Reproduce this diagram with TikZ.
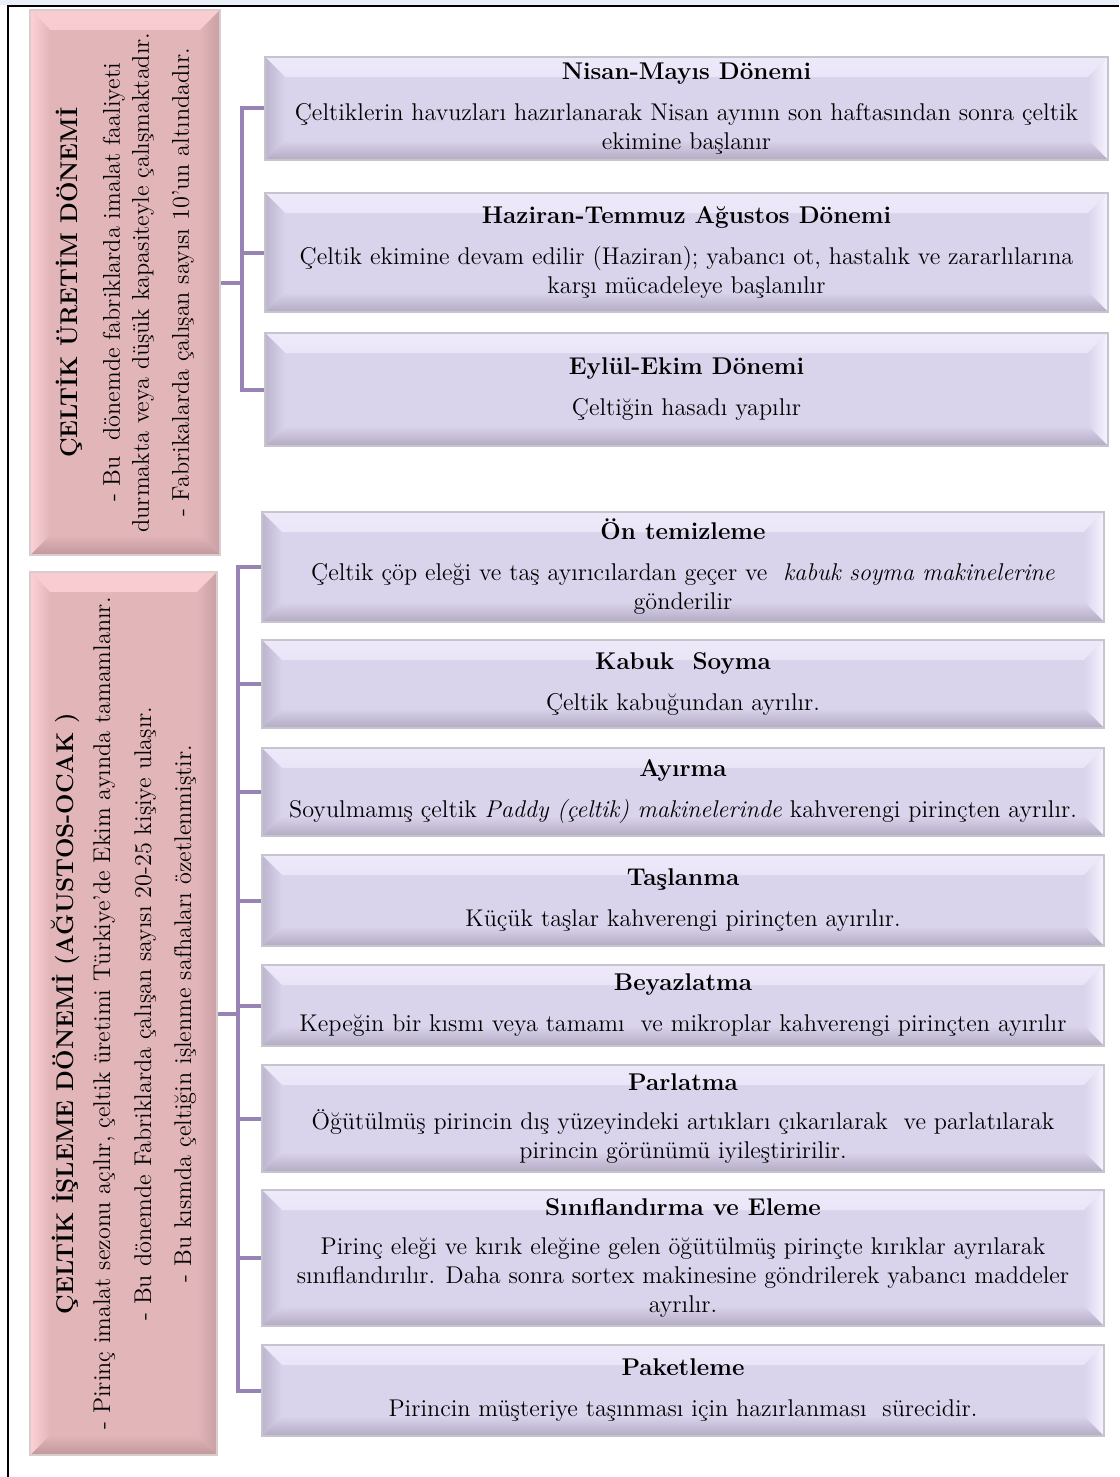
\documentclass[tikz,border=0pt]{standalone}
\usepackage{tikz}
\usetikzlibrary{calc}

\newlength\bevw
\setlength\bevw{10pt}
\newcommand\bodyfont{\fontsize{12.1}{14.5}\selectfont}

\definecolor{lavbase}{HTML}{DAD3EC}
\definecolor{lavtop}{HTML}{EEE9FA}
\definecolor{lavright}{HTML}{F7F4FF}
\definecolor{lavbottom}{HTML}{B2ABC2}
\definecolor{lavleft}{HTML}{BCB5CD}
\definecolor{lavedge}{HTML}{C6C4CC}
\definecolor{rosebase}{HTML}{E2B5B9}
\definecolor{rosetop}{HTML}{F8CCD0}
\definecolor{roseleft}{HTML}{FDD3D8}
\definecolor{roseright}{HTML}{C8A0A4}
\definecolor{rosebottom}{HTML}{C0989C}
\definecolor{roseedge}{HTML}{DACBCD}
\definecolor{bracecol}{HTML}{9784B5}
\definecolor{topband}{HTML}{EAF0F8}

\tikzset{
  % #1 face, #2 top, #3 right, #4 bottom, #5 left
  bevel/.style n args={5}{fill=#1, path picture={
    \shade[top color=#2, bottom color=#1] (path picture bounding box.north west) -- (path picture bounding box.north east)
      -- ([shift={(-\bevw,-\bevw)}]path picture bounding box.north east)
      -- ([shift={(\bevw,-\bevw)}]path picture bounding box.north west) -- cycle;
    \shade[left color=#1, right color=#3] (path picture bounding box.north east) -- (path picture bounding box.south east)
      -- ([shift={(-\bevw,\bevw)}]path picture bounding box.south east)
      -- ([shift={(-\bevw,-\bevw)}]path picture bounding box.north east) -- cycle;
    \shade[top color=#1, bottom color=#4] (path picture bounding box.south east) -- (path picture bounding box.south west)
      -- ([shift={(\bevw,\bevw)}]path picture bounding box.south west)
      -- ([shift={(-\bevw,\bevw)}]path picture bounding box.south east) -- cycle;
    \shade[left color=#5, right color=#1] (path picture bounding box.south west) -- (path picture bounding box.north west)
      -- ([shift={(\bevw,-\bevw)}]path picture bounding box.north west)
      -- ([shift={(\bevw,\bevw)}]path picture bounding box.south west) -- cycle;
  }},
  stagebox/.style={bevel={lavbase}{lavtop}{lavright}{lavbottom}{lavleft},
    draw=lavedge, line width=1pt, inner sep=0pt, align=center, font=\bodyfont},
  periodbox/.style={bevel={rosebase}{rosetop}{roseright}{rosebottom}{roseleft},
    draw=roseedge, line width=1pt, inner sep=0pt},
  periodtext/.style={rotate=90, align=center, font=\bodyfont},
  brace/.style={draw=bracecol, line width=2pt},
}

\begin{document}
\begin{tikzpicture}[x=0.5pt, y=-0.5pt]
  \useasboundingbox (0,0) rectangle (1119,1477);
  \fill[topband] (0,0) rectangle (1119,5);
  \draw[line width=1.2pt] (8,1477) |- (1119,6);

  % left column
  \node[periodbox, minimum width=95pt, minimum height=272.5pt] (uretim) at (125,282.5) {};
  \node[periodtext] (uretimtext) at (uretim.center) {\textbf{ÇELTİK ÜRETİM DÖNEMİ}\\[6.5pt]
    - Bu~ dönemde fabriklarda imalat faaliyeti\\
    durmakta veya düşük kapasiteyle çalışmaktadır.\\[5.5pt]
    - Fabrikalarda çalışan sayısı 10'un altındadır.};
  \node[periodbox, minimum width=93.5pt, minimum height=441.5pt] (isleme) at (123.5,1013.5) {};
  \node[periodtext] (islemetext) at (isleme.center) {\textbf{ÇELTİK İŞLEME DÖNEMİ (AĞUSTOS-OCAK )}\\[4pt]
    - Pirinç imalat sezonu açılır, çeltik üretimi Türkiye'de Ekim ayında tamamlanır.\\[6pt]
    - Bu dönemde Fabriklarda çalışan sayısı 20-25 kişiye ulaşır.\\[5.5pt]
    - Bu kısmda çeltiğin işlenme safhaları özetlenmiştir.};

  % production period
  \node[stagebox, minimum width=421.5pt, minimum height=51.5pt] (nisan) at (686.5,108.5)
    {\textbf{Nisan-Mayıs Dönemi}\\[6pt]
    Çeltiklerin havuzları hazırlanarak Nisan ayının son haftasından sonra çeltik\\
    ekimine başlanır};
  \node[stagebox, minimum width=421.5pt, minimum height=59.5pt] (haziran) at (686.5,252.5)
    {\textbf{Haziran-Temmuz Ağustos Dönemi}\\[6pt]
    Çeltik ekimine devam edilir (Haziran); yabancı ot, hastalık ve zararlılarına\\
    karşı mücadeleye başlanılır};
  \node[stagebox, minimum width=421.5pt, minimum height=56.5pt] (eylul) at (686.5,389.5)
    {\textbf{Eylül-Ekim Dönemi}\\[6pt]
    Çeltiğin hasadı yapılır};

  % processing period
  \node[stagebox, minimum width=421pt, minimum height=55pt] (ontemiz) at (683,567)
    {\textbf{Ön temizleme}\\[6pt]
    Çeltik çöp eleği ve taş ayırıcılardan geçer ve~ \textit{kabuk soyma makinelerine}\\
    gönderilir};
  \node[stagebox, minimum width=421pt, minimum height=44pt] (kabuk) at (683,684)
    {\textbf{Kabuk~ Soyma}\\[6pt]
    Çeltik kabuğundan ayrılır.};
  \node[stagebox, minimum width=421pt, minimum height=44pt] (ayirma) at (683,792)
    {\textbf{Ayırma}\\[6pt]
    Soyulmamış çeltik \textit{Paddy (çeltik) makinelerinde} kahverengi pirinçten ayrılır.};
  \node[stagebox, minimum width=421pt, minimum height=45.5pt] (taslanma) at (683,900.5)
    {\textbf{Taşlanma}\\[6pt]
    Küçük taşlar kahverengi pirinçten ayırılır.};
  \node[stagebox, minimum width=421pt, minimum height=40.5pt] (beyaz) at (683,1005.5)
    {\textbf{Beyazlatma}\\[6pt]
    Kepeğin bir kısmı veya tamamı~ ve mikroplar kahverengi pirinçten ayırılır};
  \node[stagebox, minimum width=421pt, minimum height=53.5pt] (parlatma) at (683,1118.5)
    {\textbf{Parlatma}\\[5pt]
    Öğütülmüş pirincin dış yüzeyindeki artıkları çıkarılarak~ ve parlatılarak\\
    pirincin görünümü iyileştiririlir.};
  \node[stagebox, minimum width=421pt, minimum height=68pt] (sinif) at (683,1258)
    {\textbf{Sınıflandırma ve Eleme}\\[5pt]
    Pirinç eleği ve kırık eleğine gelen öğütülmüş pirinçte kırıklar ayrılarak\\
    sınıflandırılır. Daha sonra sortex makinesine göndrilerek yabancı maddeler\\
    ayrılır.};
  \node[stagebox, minimum width=421pt, minimum height=45.5pt] (paket) at (683,1390.5)
    {\textbf{Paketleme}\\[6pt]
    Pirincin müşteriye taşınması için hazırlanması~ sürecidir.};

  % brackets
  \coordinate (spineA) at (242,282.5);
  \draw[brace] (uretim.east) -- (spineA);
  \draw[brace] (nisan.west) -| (spineA) |- (eylul.west);
  \draw[brace] (haziran.west) -- (haziran.west -| spineA);

  \coordinate (spineB) at (238,1013.5);
  \draw[brace] (isleme.east) -- (spineB);
  \draw[brace] (ontemiz.west) -| (spineB) |- (paket.west);
  \foreach \stage in {kabuk,ayirma,taslanma,beyaz,parlatma,sinif}
    \draw[brace] (\stage.west) -- (\stage.west -| spineB);
\end{tikzpicture}
\end{document}
